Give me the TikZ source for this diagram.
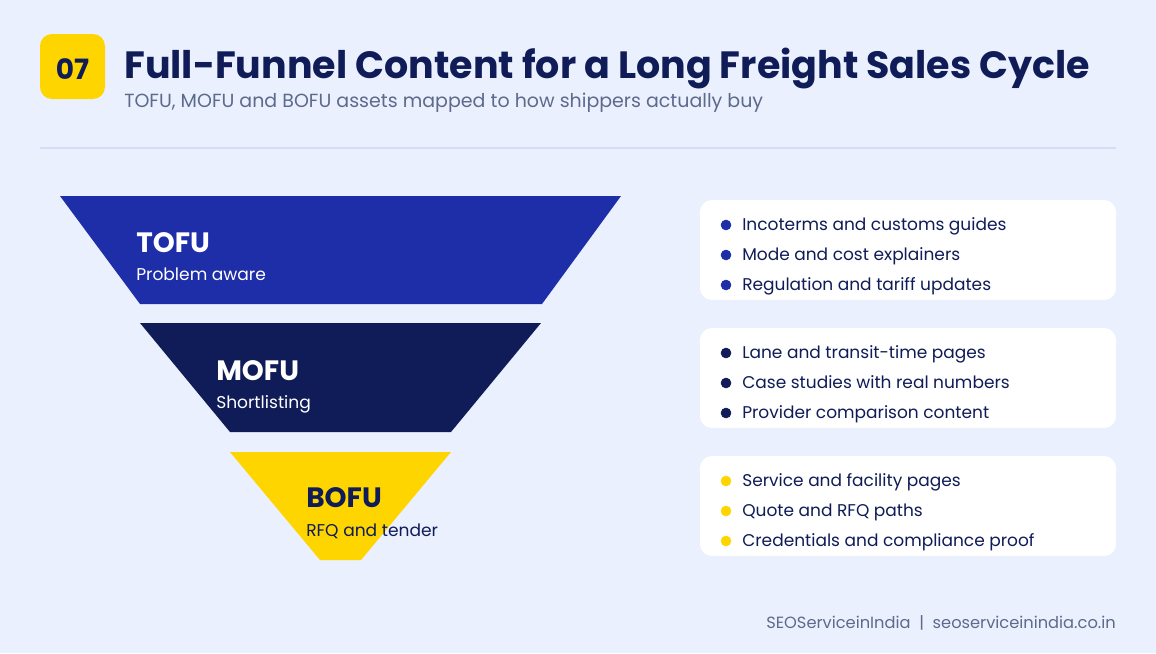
\documentclass[tikz,border=0pt]{standalone}
\usepackage{fontspec}
\setmainfont{Poppins}
\definecolor{pagebg}{HTML}{EAF0FE}
\definecolor{navy}{HTML}{0F1C57}
\definecolor{royal}{HTML}{1E2DA8}
\definecolor{gold}{HTML}{FFD500}
\definecolor{slate}{HTML}{5E6A8C}
\definecolor{rule}{HTML}{D5DCF6}
\tikzset{
  stagename/.style={anchor=base west, inner sep=0pt, font=\fontsize{21}{24}\selectfont\bfseries},
  stagenote/.style={anchor=base west, inner sep=0pt, font=\fontsize{12.8}{15}\selectfont},
  item/.style={anchor=base west, inner sep=0pt, text=navy, font=\fontsize{12.75}{15}\selectfont},
  card/.style={fill=white, rounded corners=9pt}
}
\begin{document}
\begin{tikzpicture}[x=0.75pt,y=-0.75pt]
          \useasboundingbox (0,0) rectangle (1156,653);
          \fill [pagebg] (0,0) rectangle (1156,653);

          % header
          \fill [gold, rounded corners=9pt] (40,34) rectangle (105,99);
          \node (badge) [anchor=base, inner sep=0pt, text=navy, font=\fontsize{21}{24}\selectfont\bfseries] at (72.5,79) {07};
          \node (title) [anchor=base west, inner sep=0pt, text=navy, font=\fontsize{28.5}{34}\selectfont\bfseries] at (124,78) {Full-Funnel Content for a Long Freight Sales Cycle};
          \node (subtitle) [anchor=base west, inner sep=0pt, text=slate, font=\fontsize{14.25}{17}\selectfont] at (124,107) {TOFU, MOFU and BOFU assets mapped to how shippers actually buy};
          \draw [rule, line width=1.5pt] (40,148) -- (1116,148);

          % funnel
          \fill [royal] (60,196) -- (621,196) -- (542,304) -- (140,304) -- cycle;
          \fill [navy] (140,323) -- (541,323) -- (451,432) -- (230,432) -- cycle;
          \fill [gold] (230,452) -- (451,452) -- (361,560) -- (320,560) -- cycle;

          \node (tofu) [stagename, text=white] at (136,252) {TOFU};
          \node (tofunote) [stagenote, text=white] at (136,280) {Problem aware};
          \node (mofu) [stagename, text=white] at (216,380) {MOFU};
          \node (mofunote) [stagenote, text=white] at (216,408) {Shortlisting};
          \node (bofu) [stagename, text=navy] at (306,507) {BOFU};
          \node (bofunote) [stagenote, text=navy] at (306,536) {RFQ and tender};

          % cards
          \fill [card] (700,200) rectangle (1116,300);
          \fill [card] (700,328) rectangle (1116,428);
          \fill [card] (700,456) rectangle (1116,556);

          \filldraw [royal] (726,225) circle (5);
          \filldraw [royal] (726,255) circle (5);
          \filldraw [royal] (726,285) circle (5);
          \node (tofua) [item] at (742,230) {Incoterms and customs guides};
          \node (tofub) [item] at (742,260) {Mode and cost explainers};
          \node (tofuc) [item] at (742,290) {Regulation and tariff updates};

          \filldraw [navy] (726,353) circle (5);
          \filldraw [navy] (726,383) circle (5);
          \filldraw [navy] (726,413) circle (5);
          \node (mofua) [item] at (742,358) {Lane and transit-time pages};
          \node (mofub) [item] at (742,388) {Case studies with real numbers};
          \node (mofuc) [item] at (742,418) {Provider comparison content};

          \filldraw [gold] (726,481) circle (5);
          \filldraw [gold] (726,511) circle (5);
          \filldraw [gold] (726,541) circle (5);
          \node (bofua) [item] at (742,486) {Service and facility pages};
          \node (bofub) [item] at (742,516) {Quote and RFQ paths};
          \node (bofuc) [item] at (742,546) {Credentials and compliance proof};

          % footer
          \node (footer) [anchor=base east, inner sep=0pt, text=slate, font=\fontsize{12.2}{14}\selectfont] at (1116,628) {SEOServiceinIndia\ \ |\ \ seoserviceinindia.co.in};
        \end{tikzpicture}
\end{document}
